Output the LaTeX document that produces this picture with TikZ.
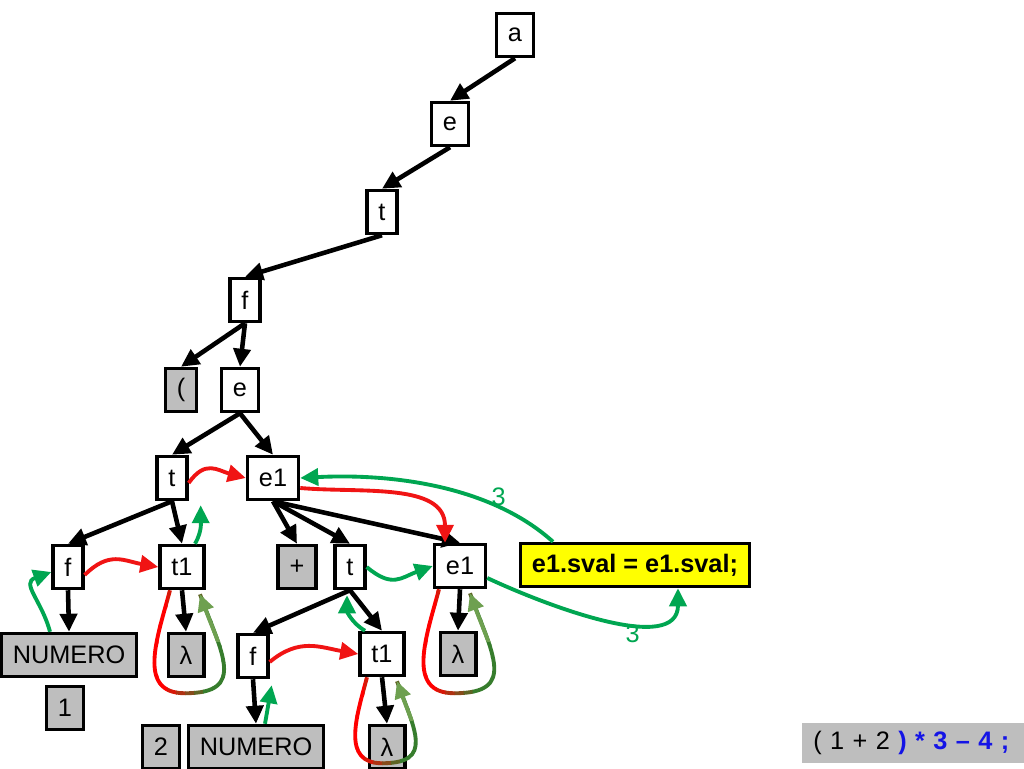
\documentclass[tikz,border=0pt]{standalone}
\usepackage{fontspec}
\setmainfont{Liberation Sans}
\usepackage{tikz}
\usetikzlibrary{arrows.meta,calc}

\definecolor{inhred}{RGB}{240,20,20}
\definecolor{syngreen}{RGB}{0,166,81}
\definecolor{loopgreen}{RGB}{55,125,45}
\definecolor{tipgreen}{RGB}{110,160,80}
\definecolor{termgray}{RGB}{190,190,190}
\definecolor{actyellow}{RGB}{255,255,0}
\definecolor{inputblue}{RGB}{20,20,230}

\newcommand{\attrloop}[4]{%
  \foreach \k in {0,...,9}{
    \pgfmathtruncatemacro{\mix}{max(0,min(100,100-(\k-2)*20))}
    \begin{scope}
      \clip ($(#1.south)+({#2-30+\k*(#3-(#2)+60)/10},10)$) rectangle ++({(#3-(#2)+60)/10+0.5},{-#4-25});
      \draw[loopline,draw=red!\mix!loopgreen] ($(#1.south)+(#2,0)$) to[out=-105,in=180,looseness=1.2] ($(#1.south)+({(#2+#3)/2},-#4)$) to[out=0,in=-70,looseness=1.6] ($(#1.south)+(#3,-4)$);
    \end{scope}}
  \begin{scope}
    \clip ($(#1.south)+({(#2+#3)/2},{-#4/2})$) rectangle ++(60,{#4/2+20});
    \draw[loopline,tipgreen,-{Triangle[length=0.34cm,width=0.32cm]}] ($(#1.south)+(#2,0)$) to[out=-105,in=180,looseness=1.2] ($(#1.south)+({(#2+#3)/2},-#4)$) to[out=0,in=-70,looseness=1.6] ($(#1.south)+(#3,-4)$);
  \end{scope}}

\begin{document}
\begin{tikzpicture}[x=0.02cm,y=0.02cm,font=\fontsize{14.4}{17}\selectfont,
  box/.style={draw,line width=2pt,minimum height=0.86cm,inner xsep=6.5pt,fill=white},
  term/.style={box,fill=termgray},
  arr/.style={-{Triangle[length=0.36cm,width=0.34cm]},line width=2.6pt},
  inh/.style={arr,inhred,line width=2.2pt},
  syn/.style={arr,syngreen,line width=2.2pt},
  loopline/.style={line width=2.2pt}]
  \useasboundingbox (0,0) rectangle (1024,768);

  \node[box] (a) at (515,733) {a};
  \node[box] (e0) at (450,644) {e};
  \node[box] (t0) at (382,556) {t};
  \node[box] (f0) at (245,468) {f};
  \node[term] (lp) at (181,378) {(};
  \node[box] (e2) at (240,378) {e};
  \node[box] (t2) at (172,290) {t};
  \node[box] (e12) at (273,290) {e1};
  \node[box] (f3) at (68,201) {f};
  \node[box] (t13) at (182,201) {t1};
  \node[term] (plus) at (297,201) {+};
  \node[box] (t3) at (350,201) {t};
  \node[box] (e13) at (460,202) {e1};
  \node[box,fill=actyellow,font=\fontsize{14.4}{17}\selectfont\bfseries] (act) at (635,203) {e1.sval = e1.sval;};
  \node[term] (num1) at (69,113) {NUMERO};
  \node[term] (lam1) at (186,113) {λ};
  \node[term] (one) at (65,60) {1};
  \node[box] (f4) at (253,112) {f};
  \node[box] (t14) at (382,114) {t1};
  \node[term] (lam2) at (458,114) {λ};
  \node[term] (two) at (161,21) {2};
  \node[term] (num2) at (256,21) {NUMERO};
  \node[term] (lam3) at (387,21) {λ};
  \node[anchor=west,fill=termgray,minimum height=0.8cm,inner xsep=6.2pt,text width=3.99cm] (input) at (802,25) {( 1 + 2 \textcolor{inputblue}{\bfseries ) * 3 – 4 ;}};

  \draw[arr] (a.south) -- (e0.north);
  \draw[arr] (e0.south) -- (t0.north);
  \draw[arr] (t0.south) -- (f0.north);
  \draw[arr] (f0.south) -- (lp.north);
  \draw[arr] (f0.south) -- (e2.north);
  \draw[arr] (e2.south) -- (t2.north);
  \draw[arr] (e2.south) -- (e12.north);
  \draw[arr] (t2.south) -- (f3.north);
  \draw[arr] (t2.south) -- (t13.north);
  \draw[arr] (e12.south) -- (plus.north);
  \draw[arr] (e12.south) -- (t3.north);
  \draw[arr] (e12.south) -- (e13.north);
  \draw[arr] (f3.south) -- (num1.north);
  \draw[arr] (t13.south) -- (lam1.north);
  \draw[arr] (t3.south) -- (f4.north);
  \draw[arr] (t3.south) -- (t14.north);
  \draw[arr] (e13.south) -- (lam2.north);
  \draw[arr] (f4.south) -- (num2.north);
  \draw[arr] (t14.south) -- (lam3.north);

  \draw[inh] ([yshift=-0.1cm]t2.east) to[out=55,in=165,looseness=1.3] (e12.west);
  \draw[inh] ([yshift=-0.16cm]f3.east) to[out=45,in=170,looseness=1.2] (t13.west);
  \draw[inh] ([yshift=-0.2cm]e12.east) to[out=-5,in=90] ([xshift=-0.3cm]e13.north);
  \draw[inh] ([yshift=-0.12cm]f4.east) to[out=40,in=170,looseness=1.1] (t14.west);

  \draw[syn] ([xshift=-0.38cm]num1.north) to[out=105,in=200,looseness=1.4] ([yshift=-0.1cm]f3.west);
  \draw[syn] ([xshift=0.26cm]t13.north) to[out=60,in=-90] ([xshift=0.24cm,yshift=-0.08cm]t2.south east);
  \draw[syn] (t3.east) to[out=-40,in=200,looseness=1.3] (e13.west);
  \draw[syn] ([xshift=-0.34cm]t14.north) to[out=150,in=-90] ([xshift=-0.06cm,yshift=-0.1cm]t3.south);
  \draw[syn] ([xshift=0.18cm]num2.north) to[out=80,in=-100] ([xshift=0.04cm,yshift=-0.12cm]f4.south east);
  \draw[syn] ([yshift=-0.24cm]e13.east) to[out=-25,in=-90,looseness=0.9] node[pos=0.62,below=-3pt] {3} ([xshift=0.86cm]act.south);
  \draw[syn] ([xshift=-1.64cm]act.north) to[out=138,in=3,looseness=0.85] node[pos=0.25,above=-4pt] {3} (e12.east);

  \attrloop{t13}{-12}{18}{103}
  \attrloop{e13}{-21}{10}{104}
  \attrloop{t14}{-15}{15}{86}
\end{tikzpicture}
\end{document}
